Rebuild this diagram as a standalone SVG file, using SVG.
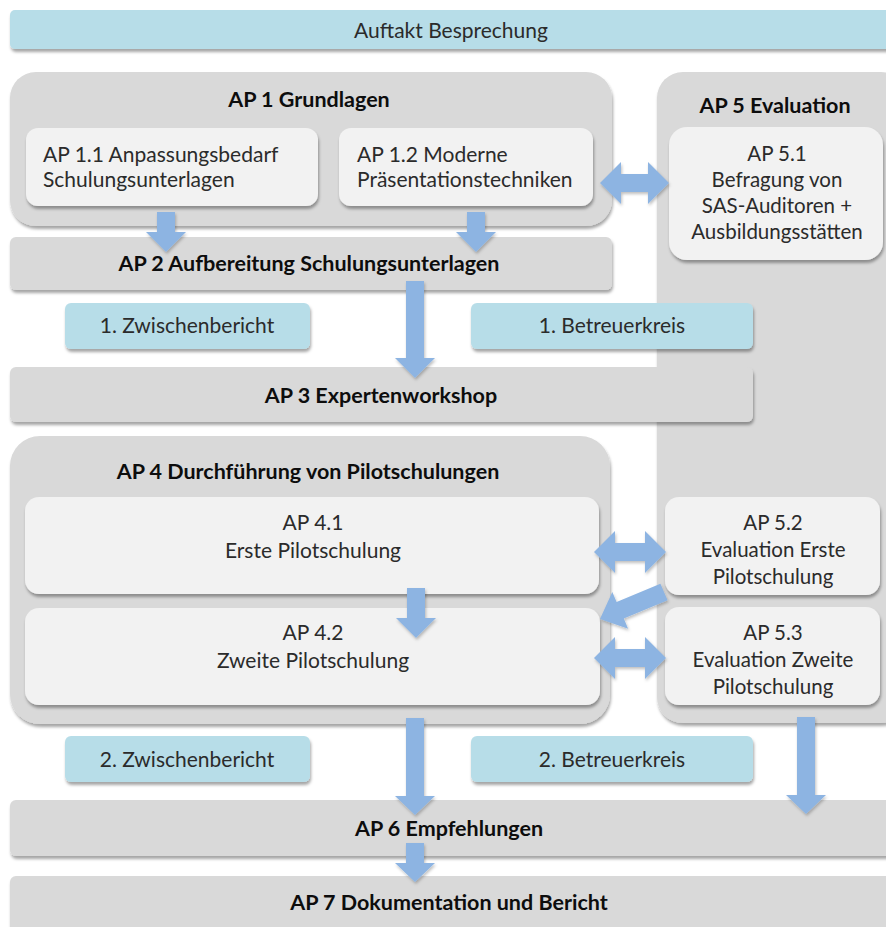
<svg xmlns="http://www.w3.org/2000/svg" width="886" height="927" viewBox="0 0 886 927">
<defs>
<filter id="sh" x="-5%" y="-10%" width="115%" height="130%">
<feDropShadow dx="1" dy="3" stdDeviation="1.8" flood-color="#000" flood-opacity="0.35"/>
</filter>
<filter id="ash" x="-20%" y="-20%" width="150%" height="150%">
<feDropShadow dx="1" dy="2" stdDeviation="1.5" flood-color="#000" flood-opacity="0.25"/>
</filter>
<style>
.cont{fill:#d9d9d9;filter:url(#sh)}
.inner{fill:#f2f2f2;filter:url(#sh)}
.blue{fill:#b7dde8;filter:url(#sh)}
.arr{fill:#8db4e2;filter:url(#ash)}
text{font-family:Lato,"Noto Sans","Liberation Sans",sans-serif;font-size:21px;fill:#2b2b2b}
.b{font-weight:bold;font-size:21.5px;fill:#0d0d0d}
.c{text-anchor:middle}
.s{font-size:20.5px}
</style>
</defs>
<rect width="886" height="927" fill="#ffffff"/>

<g id="auftakt">
<rect class="blue" x="10" y="10" width="890" height="39" rx="5"/>
<text class="c" x="451" y="38">Auftakt Besprechung</text>
</g>

<g id="ap5">
<rect class="cont" x="657" y="72" width="250" height="651" rx="26"/>
<text class="b c" x="775" y="113">AP 5 Evaluation</text>
</g>

<g id="ap1">
<rect class="cont" x="10" y="72" width="602" height="154" rx="26"/>
<text class="b c" x="309" y="107">AP 1 Grundlagen</text>
</g>

<g id="ap1-1">
<rect class="inner" x="26" y="128" width="292" height="78" rx="12"/>
<text x="43" y="162">AP 1.1 Anpassungsbedarf</text>
<text x="43" y="187">Schulungsunterlagen</text>
</g>

<g id="ap1-2">
<rect class="inner" x="339" y="128" width="254" height="78" rx="12"/>
<text x="357" y="162">AP 1.2 Moderne</text>
<text x="357" y="187">Präsentationstechniken</text>
</g>

<g id="ap5-1">
<rect class="inner" x="669" y="127" width="214" height="133" rx="18"/>
<text class="c s" x="777" y="161">AP 5.1</text>
<text class="c s" x="777" y="187">Befragung von</text>
<text class="c s" x="777" y="213">SAS-Auditoren +</text>
<text class="c s" x="777" y="239">Ausbildungsstätten</text>
</g>

<g id="ap2">
<rect class="cont" x="10" y="237" width="602" height="53" rx="6"/>
<text class="b c" x="309" y="271">AP 2 Aufbereitung Schulungsunterlagen</text>
</g>

<g id="zb1">
<rect class="blue" x="65" y="303" width="245" height="46" rx="6"/>
<text class="c" x="187" y="333">1. Zwischenbericht</text>
</g>

<g id="bk1">
<rect class="blue" x="471" y="303" width="282" height="46" rx="6"/>
<text class="c" x="612" y="333">1. Betreuerkreis</text>
</g>

<g id="ap3">
<rect class="cont" x="10" y="367" width="743" height="55" rx="6"/>
<text class="b c" x="381" y="403">AP 3 Expertenworkshop</text>
</g>

<g id="ap4">
<rect class="cont" x="10" y="436" width="600" height="288" rx="30"/>
<text class="b c" x="308" y="479">AP 4 Durchführung von Pilotschulungen</text>
</g>

<g id="ap4-1">
<rect class="inner" x="25" y="497" width="574" height="97" rx="14"/>
<text class="c" x="313" y="530">AP 4.1</text>
<text class="c" x="313" y="558">Erste Pilotschulung</text>
</g>

<g id="ap4-2">
<rect class="inner" x="25" y="608" width="575" height="97" rx="14"/>
<text class="c" x="313" y="640">AP 4.2</text>
<text class="c" x="313" y="668">Zweite Pilotschulung</text>
</g>

<g id="ap5-2">
<rect class="inner" x="665" y="497" width="215" height="98" rx="14"/>
<text class="c s" x="773" y="530">AP 5.2</text>
<text class="c s" x="773" y="557">Evaluation Erste</text>
<text class="c s" x="773" y="584">Pilotschulung</text>
</g>

<g id="ap5-3">
<rect class="inner" x="665" y="607" width="215" height="98" rx="14"/>
<text class="c s" x="773" y="640">AP 5.3</text>
<text class="c s" x="773" y="667">Evaluation Zweite</text>
<text class="c s" x="773" y="694">Pilotschulung</text>
</g>

<g id="zb2">
<rect class="blue" x="65" y="736" width="245" height="46" rx="6"/>
<text class="c" x="187" y="767">2. Zwischenbericht</text>
</g>

<g id="bk2">
<rect class="blue" x="471" y="736" width="282" height="46" rx="6"/>
<text class="c" x="612" y="767">2. Betreuerkreis</text>
</g>

<g id="ap6">
<rect class="cont" x="10" y="800" width="890" height="56" rx="6"/>
<text class="b c" x="449" y="836">AP 6 Empfehlungen</text>
</g>

<g id="ap7">
<rect class="cont" x="10" y="876" width="890" height="60" rx="6"/>
<text class="b c" x="449" y="910">AP 7 Dokumentation und Bericht</text>
</g>

<g id="connectors">
<polygon class="arr" points="157,212 175,212 175,232 186,232 166,252 146,232 157,232"/>
<polygon class="arr" points="467,212 485,212 485,232 496,232 476,252 456,232 467,232"/>
<polygon class="arr" points="406,281 424,281 424,358 435,358 415,378 395,358 406,358"/>
<polygon class="arr" points="407,588 425,588 425,618 436,618 416,638 396,618 407,618"/>
<polygon class="arr" points="406,718 424,718 424,796 435,796 415,815 395,796 406,796"/>
<polygon class="arr" points="797,717 815,717 815,795 826,795 806,814 786,795 797,795"/>
<polygon class="arr" points="406,843 424,843 424,863 435,863 415,882 395,863 406,863"/>
<polygon class="arr" points="600,183 621,162 621,174 648,174 648,162 669,183 648,204 648,192 621,192 621,204"/>
<polygon class="arr" points="594,552 615,531 615,543 645,543 645,531 666,552 645,573 645,561 615,561 615,573"/>
<polygon class="arr" points="594,658 615,637 615,649 645,649 645,637 666,658 645,679 645,667 615,667 615,679"/>
<polygon class="arr" points="667.6,600.3 623.8,618.6 628.1,628.7 600,619 612.3,592 616.6,602 660.4,583.7"/>
</g>
</svg>
